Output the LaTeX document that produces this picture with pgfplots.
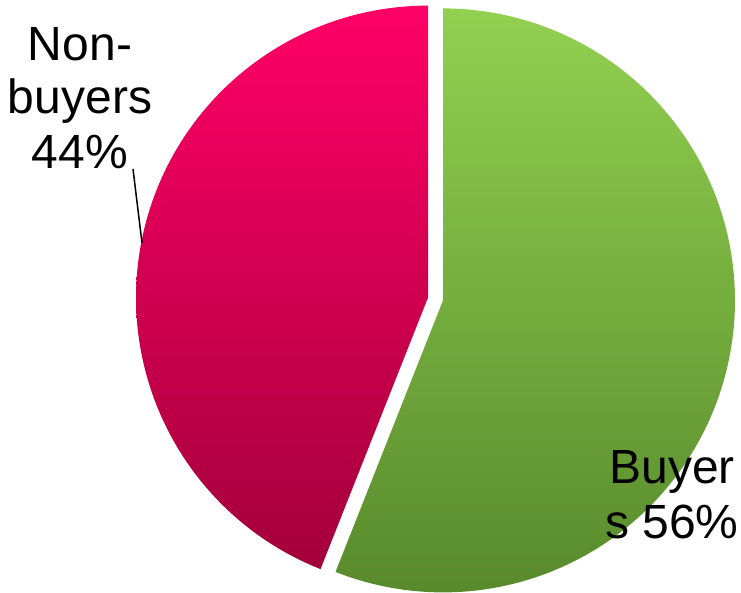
\documentclass[border=0pt]{standalone}
\usepackage{pgfplots}
\pgfplotsset{compat=1.18}
\usepackage{fontspec}
\setmainfont{Liberation Sans}
\definecolor{gtop}{HTML}{92D050}
\definecolor{gbot}{HTML}{588A2C}
\definecolor{ptop}{HTML}{FF0066}
\definecolor{pbot}{HTML}{A3003A}
\begin{document}
\begin{tikzpicture}
\def\buyers{56}
\def\nonbuyers{44}
\pgfmathsetmacro{\gend}{90-3.6*\buyers}
\pgfmathsetmacro{\pend}{90+3.6*\nonbuyers}
\begin{axis}[at={(0,0)},anchor=south west, scale only axis,
  width=741pt, height=592pt, xmin=0, xmax=741, ymin=0, ymax=592,
  y dir=reverse, hide axis, clip=false]
% Buyers slice (exploded towards its mid angle)
\addplot[draw=none, top color=gtop, bottom color=gbot, domain=\gend:90, samples=160]
  ({443+292*cos(x)},{300.4-292*sin(x)}) -- (axis cs:443,300.4) -- cycle;
% Non-buyers slice
\addplot[draw=none, top color=ptop, bottom color=pbot, domain=90:\pend, samples=160]
  ({428+292*cos(x)},{297.6-292*sin(x)}) -- (axis cs:428,297.6) -- cycle;
% leader line
\addplot[black, line width=1.5pt] coordinates {(133,169) (142,243)};
\node[anchor=base, font=\fontsize{48}{55}\selectfont] at (axis cs:80,60) {Non-};
\node[anchor=base, font=\fontsize{48}{55}\selectfont] at (axis cs:80,113) {buyers};
\node[anchor=base, font=\fontsize{48}{55}\selectfont] at (axis cs:80,168) {44\%};
\node[anchor=base, font=\fontsize{48}{55}\selectfont] at (axis cs:672,483) {Buyer};
\node[anchor=base, font=\fontsize{48}{55}\selectfont] at (axis cs:672,538) {s 56\%};
\end{axis}
\pgfresetboundingbox
\useasboundingbox (0,0) rectangle (741pt,592pt);
\end{tikzpicture}
\end{document}
